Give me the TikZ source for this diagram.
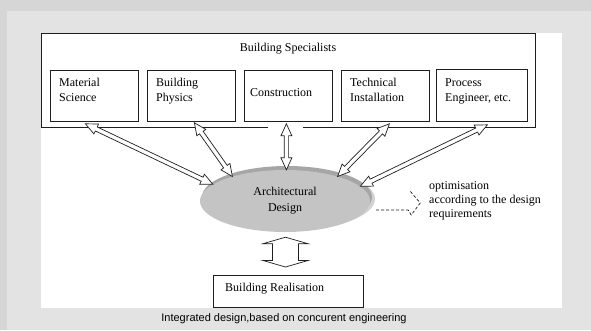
\documentclass[tikz,border=0pt]{standalone}
\usepackage{fontspec}
\setmainfont{Liberation Serif}
\newfontfamily\capfont{Liberation Sans}
\usetikzlibrary{calc,shapes.geometric}

\definecolor{bgdark}{HTML}{D6D6D6}
\definecolor{bglight}{HTML}{E3E3E3}
\definecolor{linec}{HTML}{1E1E1E}
\definecolor{ellfront}{HTML}{C4C4C4}
\definecolor{ellrim}{HTML}{A6A6A6}
\definecolor{ellglow}{HTML}{D2D2D2}

\tikzset{
  box/.style={draw=linec, line width=0.8pt, fill=white, inner sep=0pt, anchor=north west},
  lbl/.style={inner sep=0pt, align=left, font=\fontsize{12}{15}\selectfont, text=black},
  dbarrow/.style={draw=linec, line width=0.7pt, fill=white, line join=miter},
}

% double-headed hollow arrow: from, to, head length, head half width, shaft half width
\newcommand\dbarrowpath[5]{%
  \coordinate (dbA) at ($(#1)!#3!(#2)$);
  \coordinate (dbB) at ($(#2)!#3!(#1)$);
  \draw[dbarrow] (#1) -- ($(dbA)!#4!90:(#2)$) -- ($(dbA)!#5!90:(#2)$)
    -- ($(dbB)!#5!-90:(#1)$) -- ($(dbB)!#4!-90:(#1)$) -- (#2)
    -- ($(dbB)!#4!90:(#1)$) -- ($(dbB)!#5!90:(#1)$)
    -- ($(dbA)!#5!-90:(#2)$) -- ($(dbA)!#4!-90:(#2)$) -- cycle;
}

\begin{document}
\begin{tikzpicture}[x=1pt, y=-1pt]
\useasboundingbox (0,0) rectangle (591,330);

% backdrop
\fill[bgdark] (0,0) rectangle (591,330);
\fill[bglight] (7,11) rectangle (591,330);
\fill[white] (41,33) rectangle (562,308);

% specialists frame (bottom edge open where the central arrow passes)
\node[inner sep=0pt, minimum width=494, minimum height=94, anchor=north west] (spec) at (41,33) {};
\draw[linec, line width=0.8pt] ($(spec.south west)+(227,0)$) -- (spec.south west) -- (spec.north west)
  -- (spec.north east) -- (spec.south east) -- ($(spec.south west)+(262,0)$);
\node[lbl, anchor=base] (specT) at (288,51) {Building Specialists};

% specialist boxes
\node[box, minimum width=88, minimum height=51] (ms) at (50,70) {};
\node[box, minimum width=88, minimum height=51] (bp) at (147,70) {};
\node[box, minimum width=88, minimum height=51] (co) at (244,70) {};
\node[box, minimum width=88, minimum height=51] (ti) at (341,70) {};
\node[box, minimum width=91, minimum height=52] (pe) at (436,69) {};

% two-line labels: the base anchor sits on the last line
\node[lbl, anchor=base west] (msT) at (59,101) {Material\\Science};
\node[lbl, anchor=base west] (bpT) at (156,101) {Building\\Physics};
\node[lbl, anchor=base west] (coT) at (250,96) {Construction};
\node[lbl, anchor=base west] (tiT) at (350,101) {Technical\\Installation};
\node[lbl, anchor=base west] (peT) at (445,101) {Process\\Engineer, etc.};

% architectural design ellipse with its shading rim
\fill[ellglow] (290,199) ellipse [x radius=85, y radius=31];
\fill[ellrim] (287,197) ellipse [x radius=85, y radius=31];
\node[ellipse, fill=ellfront, inner sep=0pt, minimum width=170, minimum height=62,
      align=center, font=\fontsize{12}{16}\selectfont] (arch) at (285,201) {Architectural\\Design};

% arrow end points
\coordinate (msE) at ($(ms.south)+(-9,2)$);
\coordinate (bpE) at ($(bp.south)+(3,1)$);
\coordinate (coE) at ($(co.south)+(-2,2)$);
\coordinate (tiE) at ($(ti.south)+(4,2)$);
\coordinate (peE) at ($(pe.south)+(5.5,3)$);

\coordinate (aMs) at (arch.167);
\coordinate (aBp) at (arch.155);
\coordinate (aCo) at (coE |- arch.north);
\coordinate (aTi) at (arch.25);
\coordinate (aPe) at (arch.11);

\dbarrowpath{msE}{aMs}{12pt}{5.5pt}{2.2pt}
\dbarrowpath{bpE}{aBp}{12pt}{5.5pt}{2.2pt}
\dbarrowpath{coE}{aCo}{12pt}{5.5pt}{2.2pt}
\dbarrowpath{tiE}{aTi}{12pt}{5.5pt}{2.2pt}
\dbarrowpath{peE}{aPe}{12pt}{5.5pt}{2.2pt}

% realisation box and the wide arrow above it
\node[box, minimum width=150, minimum height=32] (rb) at (213,275) {};
\node[lbl, anchor=base west] (rbT) at (225,291) {Building Realisation};

\coordinate (bigTop) at ($(arch.south)+(0.5,5)$);
\coordinate (bigBot) at (bigTop |- 0,267);
\dbarrowpath{bigTop}{bigBot}{6.5pt}{22.5pt}{13pt}

% optimisation loop
\coordinate (optS) at ($(arch.east)+(6,9)$);
\draw[linec, line width=0.7pt, dash pattern=on 3pt off 2pt]
  (optS) -- ++(32,0) -- ++(3,5) -- ++(9,-12) -- ++(-11,-13);
\node[lbl, anchor=base west, font=\fontsize{12}{14}\selectfont] (opt) at (429,217)
  {optimisation\\according to the design\\requirements};

% caption
\node[inner sep=0pt, anchor=base, font=\capfont\fontsize{11}{13}\selectfont] (cap) at (284,321)
  {Integrated design,based on concurent engineering};
\end{tikzpicture}
\end{document}
